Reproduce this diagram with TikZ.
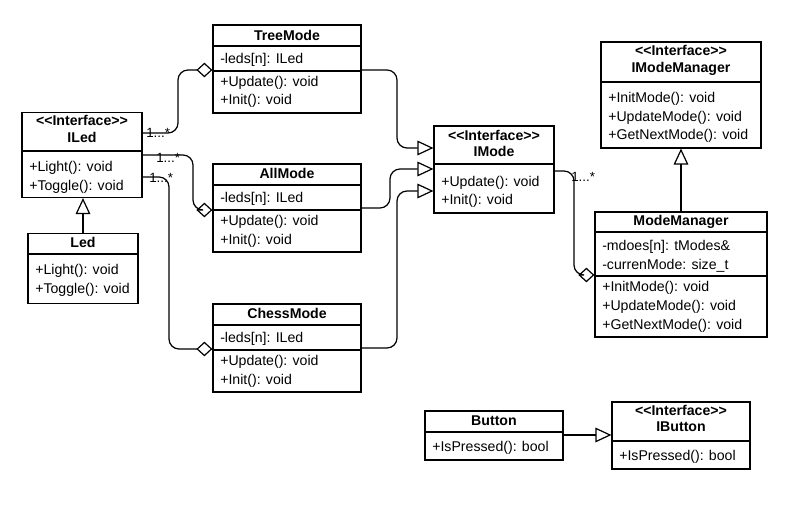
\documentclass[tikz,border=0pt]{standalone}
\usepackage{fontspec}
\setmainfont{Liberation Sans}
\usetikzlibrary{arrows.meta}
\newcommand\fs{\fontsize{10.6}{12}\selectfont}
\newcommand\fsm{\fontsize{10}{11}\selectfont}
\begin{document}
\begin{tikzpicture}[x=0.75pt,y=-0.75pt,
  box/.style={draw, line width=0.9pt, inner sep=0pt, fill=white},
  divl/.style={line width=0.9pt},
  txt/.style={inner sep=0pt, anchor=base west, font=\fs},
  ttl/.style={inner sep=0pt, anchor=base, font=\fs\bfseries},
  mult/.style={inner sep=0pt, anchor=base west, font=\fsm},
  conn/.style={line width=0.9pt, rounded corners=7.5pt},
  agg/.style={conn, -{Diamond[open, length=12pt, width=11pt]}},
  real/.style={conn, -{Triangle[open, length=12pt, width=11pt]}}]
\fill[white] (0,0) rectangle (794,509);
\useasboundingbox (0,0) rectangle (794,509);

% ---------- boxes ----------
\node[box, minimum width=90pt, minimum height=63.75pt] (iled) at (82,155) {};
\node[box, minimum width=82.5pt, minimum height=52.5pt] (led) at (83,268.5) {};
\node[box, minimum width=111pt, minimum height=66pt] (tree) at (287,69) {};
\node[box, minimum width=111pt, minimum height=66pt] (all) at (287,208) {};
\node[box, minimum width=111pt, minimum height=66pt] (chess) at (287,348) {};
\node[box, minimum width=90pt, minimum height=65.25pt] (imode) at (494,169.5) {};
\node[box, minimum width=120pt, minimum height=79.5pt] (imm) at (681,95) {};
\node[box, minimum width=129pt, minimum height=93.75pt] (mm) at (681,274.5) {};
\node[box, minimum width=103.5pt, minimum height=36.75pt] (button) at (494,435.5) {};
\node[box, minimum width=103.5pt, minimum height=50.25pt] (ibutton) at (681,435.5) {};

% ---------- dividers ----------
\draw[divl] (iled.west |- 0,151) -- (iled.east |- 0,151);
\draw[divl] (led.west |- 0,254) -- (led.east |- 0,254);
\draw[divl] (tree.west |- 0,46) -- (tree.east |- 0,46);
\draw[divl] (tree.west |- 0,71) -- (tree.east |- 0,71);
\draw[divl] (all.west |- 0,185) -- (all.east |- 0,185);
\draw[divl] (all.west |- 0,210) -- (all.east |- 0,210);
\draw[divl] (chess.west |- 0,325) -- (chess.east |- 0,325);
\draw[divl] (chess.west |- 0,350) -- (chess.east |- 0,350);
\draw[divl] (imode.west |- 0,164) -- (imode.east |- 0,164);
\draw[divl] (imm.west |- 0,82) -- (imm.east |- 0,82);
\draw[divl] (mm.west |- 0,232) -- (mm.east |- 0,232);
\draw[divl] (mm.west |- 0,276) -- (mm.east |- 0,276);
\draw[divl] (button.west |- 0,432) -- (button.east |- 0,432);
\draw[divl] (ibutton.west |- 0,441) -- (ibutton.east |- 0,441);

% ---------- texts ----------
\node[ttl] (iled-s) at (82,126) {<{}<Interface>{}>};
\node[ttl] (iled-n) at (82,143) {ILed};
\node[txt] (iled-1) at (29,172) {+Light(): void};
\node[txt] (iled-2) at (29,191) {+Toggle(): void};

\node[ttl] (led-n) at (83,248) {Led};
\node[txt] (led-1) at (35,275) {+Light(): void};
\node[txt] (led-2) at (35,294) {+Toggle(): void};

\node[ttl] (tree-n) at (287,41) {TreeMode};
\node[txt] (tree-a) at (220,64) {-leds[n]: ILed};
\node[txt] (tree-1) at (220,87) {+Update(): void};
\node[txt] (tree-2) at (220,105) {+Init(): void};

\node[ttl] (all-n) at (287,179) {AllMode};
\node[txt] (all-a) at (220,203) {-leds[n]: ILed};
\node[txt] (all-1) at (220,226) {+Update(): void};
\node[txt] (all-2) at (220,245) {+Init(): void};

\node[ttl] (chess-n) at (287,319) {ChessMode};
\node[txt] (chess-a) at (220,343) {-leds[n]: ILed};
\node[txt] (chess-1) at (220,366) {+Update(): void};
\node[txt] (chess-2) at (220,385) {+Init(): void};

\node[ttl] (imode-s) at (494,141) {<{}<Interface>{}>};
\node[ttl] (imode-n) at (494,157) {IMode};
\node[txt] (imode-1) at (441,187) {+Update(): void};
\node[txt] (imode-2) at (441,205) {+Init(): void};

\node[ttl] (imm-s) at (681,56) {<{}<Interface>{}>};
\node[ttl] (imm-n) at (681,73) {IModeManager};
\node[txt] (imm-1) at (608,103) {+InitMode(): void};
\node[txt] (imm-2) at (608,122) {+UpdateMode(): void};
\node[txt] (imm-3) at (608,140) {+GetNextMode(): void};

\node[ttl] (mm-n) at (681,226) {ModeManager};
\node[txt] (mm-a1) at (602,251) {-mdoes[n]: tModes\&};
\node[txt] (mm-a2) at (602,270) {-currenMode: size\_t};
\node[txt] (mm-1) at (602,292) {+InitMode(): void};
\node[txt] (mm-2) at (602,311) {+UpdateMode(): void};
\node[txt] (mm-3) at (602,330) {+GetNextMode(): void};

\node[ttl] (button-n) at (494,426) {Button};
\node[txt] (button-1) at (432,452) {+IsPressed(): bool};

\node[ttl] (ibutton-s) at (681,416) {<{}<Interface>{}>};
\node[ttl] (ibutton-n) at (681,432) {IButton};
\node[txt] (ibutton-1) at (619,461) {+IsPressed(): bool};

% ---------- connectors ----------
\draw[agg] (iled.east |- 0,133) -- (178,133) -- (178,70) -- (tree.west |- 0,70);
\draw[agg] (iled.east |- 0,155) -- (193,155) -- (193,210) -- (all.west |- 0,210);
\draw[agg] (iled.east |- 0,177) -- (169,177) -- (169,349) -- (chess.west |- 0,349);

\draw[real] (tree.east |- 0,70) -- (397,70) -- (397,148) -- (imode.west |- 0,148);
\draw[real] (all.east |- 0,208) -- (390,208) -- (390,169) -- (imode.west |- 0,169);
\draw[real] (chess.east |- 0,348) -- (397,348) -- (397,191) -- (imode.west |- 0,191);

\draw[agg] (imode.east |- 0,171) -- (574,171) -- (574,275) -- (mm.west |- 0,275);

\draw[real] (led.north) -- (led.north |- iled.south);
\draw[real] (mm.north) -- (imm.south);
\draw[real] (button.east |- 0,435) -- (ibutton.west |- 0,435);

% ---------- multiplicities ----------
\node[mult] (m1) at (146,138) {1...*};
\node[mult] (m2) at (156,163) {1...*};
\node[mult] (m3) at (149,183) {1...*};
\node[mult] (m4) at (571,182) {1...*};
\end{tikzpicture}
\end{document}
